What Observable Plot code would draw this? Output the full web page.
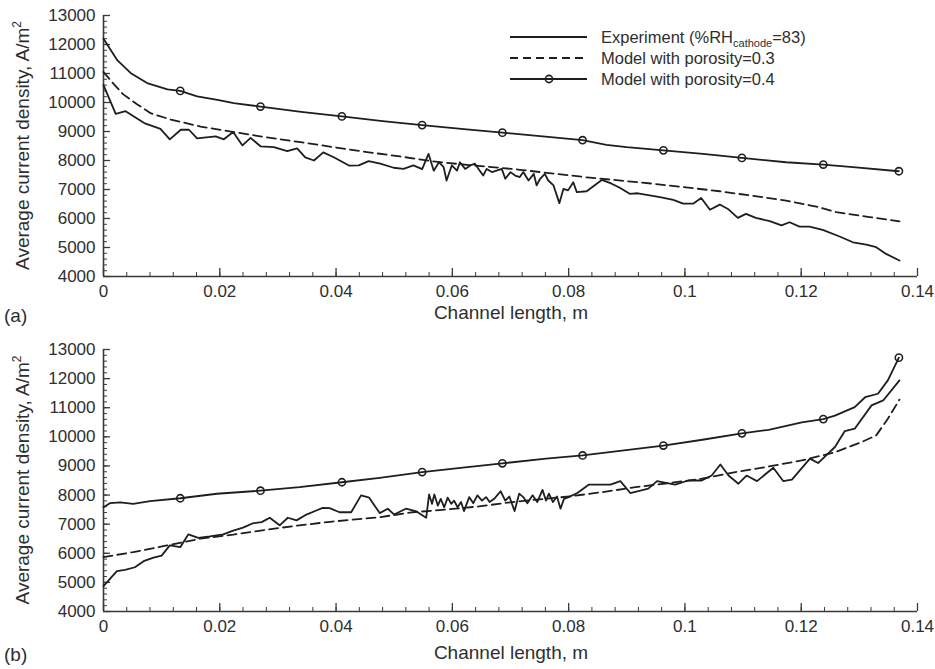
<!DOCTYPE html>
<html><head><meta charset="utf-8">
<script src="https://cdn.jsdelivr.net/npm/d3@7"></script>
<script src="https://cdn.jsdelivr.net/npm/@observablehq/plot@0.6"></script>
<style>
body{margin:0;background:#fff;}
#wrap{position:relative;width:935px;height:669px;overflow:hidden;background:#fff;}
.panel{position:absolute;left:0;}
</style>
</head><body><div id="wrap"></div>
<script>
// ---------- tick values & labels ----------
const xMajorTicks = [0, 0.02, 0.04, 0.06, 0.08, 0.1, 0.12, 0.14];
const xTickLabels = ["0", "0.02", "0.04", "0.06", "0.08", "0.1", "0.12", "0.14"];
const xMinorTicks = d3.range(0, 0.1401, 0.004);
const yMajorTicks = [4000, 5000, 6000, 7000, 8000, 9000, 10000, 11000, 12000, 13000];
const yTickLabels = ["4000", "5000", "6000", "7000", "8000", "9000", "10000", "11000", "12000", "13000"];
const yMinorTicks = d3.range(4000, 13001, 200);
const markerX = [0.0132, 0.027, 0.041, 0.0548, 0.0686, 0.0824, 0.0963, 0.1098, 0.1238, 0.1368];

const seriesNames = ["Experiment (%RH", "cathode", "=83)", "Model with porosity=0.3", "Model with porosity=0.4"];
const xTitle = "Channel length, m";
const yTitle = "Average current density, A/m";
const panelLabels = ["(a)", "(b)"];

// ---------- panel (a) ----------
const aExpX = [0, 0.0021, 0.0038, 0.007, 0.0098, 0.0114, 0.0133, 0.0147, 0.0161, 0.0193, 0.0207, 0.0223, 0.0239, 0.0253, 0.027, 0.0293, 0.0316, 0.0333, 0.0347, 0.0362, 0.0378, 0.0396, 0.0423, 0.0439, 0.0456, 0.0476, 0.0499, 0.0516, 0.0533, 0.0548, 0.0559, 0.0568, 0.0577, 0.0585, 0.059, 0.0599, 0.0608, 0.0613, 0.0622, 0.0631, 0.0639, 0.0645, 0.0653, 0.0659, 0.0668, 0.0676, 0.0685, 0.0691, 0.07, 0.0708, 0.0716, 0.0722, 0.0731, 0.074, 0.0745, 0.0751, 0.0759, 0.0765, 0.0774, 0.0784, 0.0791, 0.0799, 0.0808, 0.0814, 0.0831, 0.0857, 0.0874, 0.0888, 0.0905, 0.0919, 0.0957, 0.098, 0.0997, 0.1014, 0.1028, 0.1043, 0.106, 0.1074, 0.1091, 0.1105, 0.1122, 0.1146, 0.1166, 0.118, 0.1197, 0.1214, 0.1237, 0.1266, 0.1289, 0.1312, 0.1329, 0.1346, 0.1369];
const aExpY = [10600, 9610, 9700, 9290, 9090, 8730, 9060, 9060, 8760, 8830, 8730, 8980, 8520, 8780, 8490, 8460, 8320, 8420, 8110, 8000, 8280, 8110, 7820, 7830, 7980, 7890, 7750, 7710, 7830, 7700, 8230, 7650, 7940, 7770, 7310, 7830, 7650, 7940, 7710, 7830, 7890, 7710, 7480, 7710, 7600, 7650, 7710, 7370, 7600, 7480, 7430, 7600, 7310, 7540, 7140, 7370, 7540, 7310, 7140, 6530, 7020, 6970, 7250, 6910, 6940, 7330, 7200, 7060, 6850, 6870, 6740, 6640, 6510, 6510, 6710, 6300, 6480, 6330, 6020, 6160, 6020, 5910, 5760, 5870, 5720, 5720, 5610, 5380, 5180, 5100, 5010, 4780, 4550];
const aM3X = [0, 0.0017, 0.0034, 0.0057, 0.0081, 0.0116, 0.0167, 0.0224, 0.028, 0.0339, 0.0396, 0.0453, 0.051, 0.0567, 0.0625, 0.0682, 0.0716, 0.0831, 0.0945, 0.106, 0.1174, 0.1226, 0.126, 0.1317, 0.1369];
const aM3Y = [11050, 10650, 10280, 9950, 9630, 9410, 9170, 8980, 8800, 8630, 8460, 8290, 8140, 7970, 7850, 7750, 7680, 7420, 7200, 6940, 6620, 6410, 6220, 6050, 5900];
const aM4X = [0, 0.0024, 0.0047, 0.0075, 0.011, 0.0132, 0.0161, 0.0196, 0.0224, 0.027, 0.034, 0.041, 0.048, 0.0548, 0.062, 0.0686, 0.0824, 0.0865, 0.09, 0.0963, 0.1031, 0.1098, 0.1174, 0.1238, 0.1289, 0.1368];
const aM4Y = [12200, 11450, 11010, 10670, 10450, 10400, 10210, 10090, 9980, 9860, 9680, 9520, 9360, 9220, 9080, 8960, 8700, 8540, 8460, 8350, 8230, 8090, 7940, 7860, 7770, 7630];

// ---------- panel (b) ----------
const bExpX = [0, 0.0023, 0.0037, 0.0054, 0.0069, 0.0086, 0.01, 0.0114, 0.0132, 0.0146, 0.0163, 0.0183, 0.0206, 0.0223, 0.024, 0.0257, 0.0272, 0.0286, 0.0303, 0.0317, 0.0332, 0.0349, 0.0366, 0.0377, 0.0389, 0.0406, 0.0426, 0.0443, 0.0457, 0.0475, 0.0489, 0.05, 0.052, 0.0537, 0.0555, 0.056, 0.0565, 0.0569, 0.0575, 0.058, 0.0586, 0.0592, 0.0598, 0.0603, 0.0609, 0.0615, 0.062, 0.0629, 0.0636, 0.0643, 0.0651, 0.0658, 0.0664, 0.0672, 0.0683, 0.0691, 0.0698, 0.0707, 0.0715, 0.0722, 0.0729, 0.0738, 0.0746, 0.0755, 0.0761, 0.0766, 0.0773, 0.078, 0.0786, 0.0792, 0.08, 0.0815, 0.0835, 0.0872, 0.0889, 0.0906, 0.0937, 0.0952, 0.0983, 0.1006, 0.1029, 0.1046, 0.1061, 0.1075, 0.1092, 0.1106, 0.1124, 0.1152, 0.1169, 0.1184, 0.1215, 0.1229, 0.1258, 0.1275, 0.1292, 0.1321, 0.1341, 0.1369];
const bExpY = [4870, 5390, 5430, 5520, 5730, 5850, 5920, 6270, 6210, 6650, 6530, 6580, 6650, 6780, 6880, 7030, 7070, 7220, 6960, 7220, 7130, 7330, 7470, 7560, 7550, 7410, 7410, 7990, 7910, 7380, 7530, 7330, 7530, 7450, 7220, 8020, 7700, 8020, 7640, 7870, 7580, 7910, 7700, 7810, 7580, 7760, 7450, 7930, 7720, 7990, 7810, 7930, 7760, 7870, 8130, 7810, 7950, 7450, 8050, 7930, 7720, 7990, 7760, 8180, 7810, 8050, 7760, 7950, 7530, 7870, 7930, 8070, 8360, 8360, 8480, 8070, 8220, 8480, 8360, 8500, 8500, 8670, 9050, 8670, 8390, 8670, 8480, 8940, 8480, 8530, 9250, 9100, 9650, 10200, 10280, 11080, 11250, 11940];
const bM3X = [0, 0.0051, 0.0109, 0.0166, 0.0223, 0.028, 0.0337, 0.0394, 0.0475, 0.0532, 0.0589, 0.0646, 0.0703, 0.08, 0.0858, 0.0915, 0.0972, 0.1029, 0.1087, 0.1144, 0.1201, 0.1258, 0.1304, 0.1329, 0.1349, 0.1369];
const bM3Y = [5870, 6040, 6270, 6500, 6640, 6810, 6960, 7090, 7240, 7410, 7500, 7610, 7760, 7950, 8100, 8270, 8410, 8560, 8790, 8980, 9190, 9470, 9820, 10050, 10620, 11280];
const bM4X = [0, 0.0011, 0.0029, 0.0051, 0.008, 0.0132, 0.0195, 0.027, 0.0337, 0.041, 0.0475, 0.0548, 0.0618, 0.0686, 0.0761, 0.0824, 0.0963, 0.103, 0.1098, 0.1144, 0.1201, 0.1238, 0.1258, 0.1292, 0.131, 0.1332, 0.1349, 0.1368];
const bM4Y = [7580, 7720, 7750, 7700, 7790, 7890, 8045, 8150, 8270, 8440, 8590, 8790, 8940, 9090, 9250, 9360, 9700, 9900, 10120, 10240, 10500, 10610, 10730, 11020, 11360, 11480, 11940, 12720];

// ---------- styling ----------
const FONT = "'Liberation Sans', Arial, Helvetica, sans-serif";
const INK = "#1e1e1e";
const AXIS = "#3a3a3a";
const TEXT = "#2e2e2e";

const zip = (xs, ys) => xs.map((x, i) => ({x, y: ys[i]}));

function panel(cfg) {
  const {exp, m3, m4, height, marginTop, marginBottom, top} = cfg;
  const marginLeft = 103, marginRight = 18;
  const ph = height - marginTop - marginBottom;
  const pw = 935 - marginLeft - marginRight;
  const markers = m4.filter(d => markerX.includes(d.x));
  const chart = Plot.plot({
    width: 935, height, marginLeft, marginRight, marginTop, marginBottom,
    style: {fontFamily: FONT, fontSize: "17px", color: TEXT, background: "white"},
    x: {domain: [0, 0.14], axis: null},
    y: {domain: [4000, 13000], axis: null},
    marks: [
      // tick marks (inward)
      Plot.ruleX(xMinorTicks, {x: d => d, y1: 13000, y2: 4000, insetTop: ph - 4, stroke: AXIS, strokeWidth: 1}),
      Plot.ruleX(xMajorTicks, {x: d => d, y1: 13000, y2: 4000, insetTop: ph - 8, stroke: AXIS, strokeWidth: 1.3}),
      Plot.ruleY(yMinorTicks, {y: d => d, x1: 0, x2: 0.14, insetRight: pw - 4, stroke: AXIS, strokeWidth: 1}),
      Plot.ruleY(yMajorTicks, {y: d => d, x1: 0, x2: 0.14, insetRight: pw - 7, stroke: AXIS, strokeWidth: 1.3}),
      // axis lines
      Plot.ruleY([4000], {stroke: AXIS, strokeWidth: 1.6}),
      Plot.ruleX([0], {stroke: AXIS, strokeWidth: 1.6}),
      // tick labels
      Plot.axisX(xMajorTicks, {tickSize: 0, tickPadding: 8, tickFormat: (d) => xTickLabels[xMajorTicks.indexOf(d)], fontSize: 17, fill: TEXT, label: null}),
      Plot.axisY(yMajorTicks, {tickSize: 0, tickPadding: 8, tickFormat: (d) => yTickLabels[yMajorTicks.indexOf(d)], fontSize: 17, fill: TEXT, label: null}),
      // data
      Plot.line(m3, {x: "x", y: "y", stroke: INK, strokeWidth: 1.8, strokeDasharray: "9,5"}),
      Plot.line(exp, {x: "x", y: "y", stroke: INK, strokeWidth: 1.8}),
      Plot.line(m4, {x: "x", y: "y", stroke: INK, strokeWidth: 1.8}),
      Plot.dot(markers, {x: "x", y: "y", r: 3.6, stroke: INK, strokeWidth: 1.6, fill: "none"})
    ]
  });
  chart.classList.add("panel");
  chart.style.top = top + "px";
  const svg = d3.select(chart);
  // x title
  svg.append("text").attr("x", 511).attr("y", cfg.xTitleY)
    .attr("text-anchor", "middle").attr("font-family", FONT).attr("font-size", 19).attr("fill", TEXT)
    .text(xTitle);
  // y title with superscript
  const yt = svg.append("text")
    .attr("transform", `translate(29,${marginTop + ph / 2}) rotate(-90)`)
    .attr("text-anchor", "middle").attr("font-family", FONT).attr("font-size", 19).attr("fill", TEXT);
  yt.append("tspan").text(yTitle);
  yt.append("tspan").attr("dy", -8).attr("font-size", 12).text("2");
  // panel label
  svg.append("text").attr("x", 4).attr("y", cfg.labelY).attr("text-anchor", "start")
    .attr("font-family", FONT).attr("font-size", 19).attr("fill", TEXT).text(cfg.label);
  return {chart, svg};
}

const wrap = document.getElementById("wrap");
const A = panel({exp: zip(aExpX, aExpY), m3: zip(aM3X, aM3Y), m4: zip(aM4X, aM4Y),
  height: 334, marginTop: 15, marginBottom: 58, top: 0, xTitleY: 319, labelY: 322, label: panelLabels[0]});
const B = panel({exp: zip(bExpX, bExpY), m3: zip(bM3X, bM3Y), m4: zip(bM4X, bM4Y),
  height: 335, marginTop: 15, marginBottom: 58, top: 334, xTitleY: 325, labelY: 327, label: panelLabels[1]});
wrap.appendChild(A.chart);
wrap.appendChild(B.chart);

// ---------- legend (panel a) ----------
const lg = A.svg.append("g").attr("font-family", FONT).attr("font-size", 16.5).attr("fill", TEXT).attr("text-anchor", "start");
const rows = [
  {y: 37, dash: null, marker: false},
  {y: 58, dash: "8,5", marker: false},
  {y: 79, dash: null, marker: true}
];
rows.forEach((r) => {
  lg.append("line").attr("x1", 510).attr("x2", 587).attr("y1", r.y).attr("y2", r.y)
    .attr("stroke", INK).attr("stroke-width", 1.8).attr("stroke-dasharray", r.dash);
  if (r.marker) lg.append("circle").attr("cx", 549).attr("cy", r.y).attr("r", 3.6)
    .attr("fill", "none").attr("stroke", INK).attr("stroke-width", 1.6);
});
const t0 = lg.append("text").attr("x", 601).attr("y", rows[0].y + 6);
t0.append("tspan").text(seriesNames[0]);
t0.append("tspan").attr("dy", 4).attr("font-size", 11).text(seriesNames[1]);
t0.append("tspan").attr("dy", -4).text(seriesNames[2]);
lg.append("text").attr("x", 601).attr("y", rows[1].y + 6).text(seriesNames[3]);
lg.append("text").attr("x", 601).attr("y", rows[2].y + 6).text(seriesNames[4]);
</script>
</body></html>
